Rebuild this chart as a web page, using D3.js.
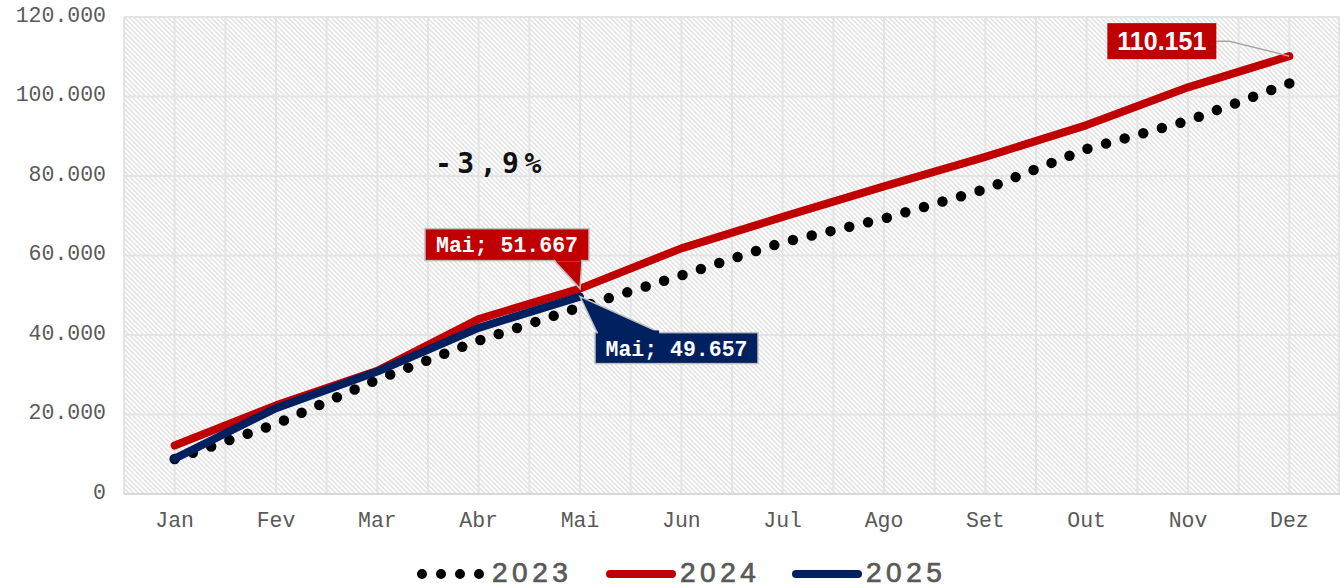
<!DOCTYPE html>
<html><head><meta charset="utf-8">
<script src="https://cdn.jsdelivr.net/npm/d3@7"></script>
<style>body{margin:0;background:#fff}</style>
</head><body><svg id="c" width="1340" height="588"></svg>
<script>
const months = ["Jan","Fev","Mar","Abr","Mai","Jun","Jul","Ago","Set","Out","Nov","Dez"];
const v2023 = [8800,17600,28800,38600,47000,55000,63300,69300,76700,86800,93900,103300];
const v2024 = [12200,22300,31000,44000,51667,61800,69700,77400,84800,92800,102300,110151];
const v2025 = [8900,21600,30800,41800,49657];
const yTicks = [0,20000,40000,60000,80000,100000,120000];
const seriesNames = ["2023","2024","2025"];
const seriesColors = ["#000000","#C00000","#002060"];
const variationLabel = "-3,9%";

const series = [
  {name: seriesNames[0], values: v2023, color: seriesColors[0], dotted: true},
  {name: seriesNames[1], values: v2024, color: seriesColors[1], dotted: false},
  {name: seriesNames[2], values: v2025, color: seriesColors[2], dotted: false}
];

const svg = d3.select("#c");
const M = {left: 124, right: 1340, top: 17, bottom: 494};
const x = d3.scaleBand().domain(months).range([M.left, M.right]).paddingInner(0).paddingOuter(0);
const y = d3.scaleLinear().domain([0, 120000]).range([M.bottom, M.top]);
const cx = m => x(m) + x.bandwidth() / 2;
const loc = d3.formatLocale({decimal: ",", thousands: ".", grouping: [3], currency: ["", ""]});
const fmt = loc.format(",");

// hatch pattern
const defs = svg.append("defs");
const pat = defs.append("pattern").attr("id", "hatch").attr("patternUnits", "userSpaceOnUse")
  .attr("width", 3.4).attr("height", 10).attr("patternTransform", "rotate(-45)");
pat.append("rect").attr("width", 3.4).attr("height", 10).attr("fill", "#ffffff");
pat.append("line").attr("x1", 0.8).attr("x2", 0.8).attr("y1", 0).attr("y2", 10)
  .attr("stroke", "#d3d3d3").attr("stroke-width", 1);

svg.append("rect").attr("x", M.left).attr("y", M.top).attr("width", M.right - M.left)
  .attr("height", M.bottom - M.top).attr("fill", "url(#hatch)");

// horizontal gridlines
svg.append("g").selectAll("line").data(yTicks).join("line")
  .attr("x1", M.left).attr("x2", M.right).attr("y1", d => y(d)).attr("y2", d => y(d))
  .attr("stroke", "#e4e4e4").attr("stroke-width", 2);

// vertical gridlines at band edges and centers
const vLines = [];
months.forEach(m => { vLines.push(x(m)); vLines.push(cx(m)); });
vLines.push(M.right - 1);
svg.append("g").selectAll("line").data(vLines).join("line")
  .attr("x1", d => d).attr("x2", d => d).attr("y1", M.top).attr("y2", M.bottom)
  .attr("stroke", "#e4e4e4").attr("stroke-width", 2);

// bottom axis line
svg.append("line").attr("x1", M.left).attr("x2", M.right).attr("y1", M.bottom).attr("y2", M.bottom)
  .attr("stroke", "#d9d9d9").attr("stroke-width", 2);

// y axis
const yAxis = svg.append("g").attr("transform", `translate(${M.left},0)`)
  .call(d3.axisLeft(y).tickValues(yTicks).tickFormat(fmt).tickSize(0).tickPadding(18));
yAxis.select(".domain").remove();
yAxis.selectAll("text").attr("font-family", "'Liberation Mono', 'Courier New', monospace")
  .attr("font-size", 21.5).attr("fill", "#595959").attr("dy", "0.2em");

// x axis
const xAxis = svg.append("g").attr("transform", `translate(0,${M.bottom})`)
  .call(d3.axisBottom(x).tickSize(0).tickPadding(18));
xAxis.select(".domain").remove();
xAxis.selectAll("text").attr("font-family", "'Liberation Mono', 'Courier New', monospace")
  .attr("font-size", 21.5).attr("fill", "#595959");

// lines
const line = d3.line().x((d, i) => cx(months[i])).y(d => y(d));
series.forEach(s => {
  const p = svg.append("path").datum(s.values).attr("d", line).attr("fill", "none")
    .attr("stroke", s.color).attr("stroke-linecap", "round").attr("stroke-linejoin", "round");
  if (s.dotted) {
    const L = p.node().getTotalLength();
    const gap = L / Math.round(L / 19.4);
    p.attr("stroke-width", 10.5).attr("stroke-dasharray", `0 ${gap}`);
  } else p.attr("stroke-width", 8);
});

// variation annotation
svg.append("text").attr("x", 435).attr("y", 173).text(variationLabel)
  .attr("font-family", "'DejaVu Sans Mono', monospace").attr("font-size", 28).attr("font-weight", "bold")
  .attr("letter-spacing", 5.5).attr("fill", "#111");

// callout labels
function callout(cfg) {
  const g = svg.append("g");
  g.append("polygon").attr("points", cfg.wedge.map(p => p.join(",")).join(" "))
    .attr("fill", cfg.color).attr("stroke", "#bfbfbf").attr("stroke-width", 1.5);
  g.append("rect").attr("x", cfg.box[0]).attr("y", cfg.box[1]).attr("width", cfg.box[2]).attr("height", cfg.box[3])
    .attr("fill", cfg.color).attr("stroke", "#bfbfbf").attr("stroke-width", 1.5);
  g.append("polygon").attr("points", cfg.seam.map(p => p.join(",")).join(" ")).attr("fill", cfg.color);
  g.append("text").attr("x", cfg.box[0] + cfg.box[2] / 2).attr("y", cfg.box[1] + cfg.box[3] / 2)
    .attr("dy", "0.36em").attr("text-anchor", "middle").text(cfg.text)
    .attr("font-family", "'Liberation Mono', 'Courier New', monospace").attr("font-weight", "bold")
    .attr("font-size", 21.5).attr("fill", "#fff");
}
const mai = months.indexOf("Mai");
const p24 = [cx("Mai"), y(v2024[mai])];
const p25 = [cx("Mai"), y(v2025[mai])];
callout({
  color: seriesColors[1], text: "Mai; " + fmt(v2024[mai]),
  box: [p24[0] - 155, p24[1] - 60, 164, 32],
  wedge: [[p24[0] - 26, p24[1] - 28], p24, [p24[0] + 2, p24[1] - 28]],
  seam: [[p24[0] - 25, p24[1] - 29.5], [p24[0] + 1, p24[1] - 29.5], [p24[0] + 1, p24[1] - 27], [p24[0] - 24, p24[1] - 27]]
});
callout({
  color: seriesColors[2], text: "Mai; " + fmt(v2025[mai]),
  box: [p25[0] + 15, p25[1] + 36, 163, 31],
  wedge: [[p25[0] + 17, p25[1] + 36], p25, [p25[0] + 80, p25[1] + 36]],
  seam: [[p25[0] + 18, p25[1] + 34], [p25[0] + 79, p25[1] + 34], [p25[0] + 79, p25[1] + 37.5], [p25[0] + 18, p25[1] + 37.5]]
});

// end label 110.151
const pEnd = [cx("Dez"), y(v2024[11])];
svg.append("polyline").attr("points", [[pEnd[0] - 73, pEnd[1] - 15], [pEnd[0] - 60, pEnd[1] - 15], pEnd].map(p => p.join(",")).join(" "))
  .attr("fill", "none").attr("stroke", "#a6a6a6").attr("stroke-width", 1.5);
svg.append("rect").attr("x", pEnd[0] - 182).attr("y", pEnd[1] - 33).attr("width", 109).attr("height", 36)
  .attr("fill", seriesColors[1]);
svg.append("text").attr("x", pEnd[0] - 127.5).attr("y", pEnd[1] - 15).attr("dy", "0.36em")
  .attr("text-anchor", "middle").text(fmt(v2024[11]))
  .attr("font-family", "'Liberation Sans', Arial, sans-serif").attr("font-weight", "bold")
  .attr("font-size", 25).attr("fill", "#fff");

// legend
const legendX = [418, 606, 792];
const lg = svg.append("g");
series.forEach((s, i) => {
  const x0 = legendX[i], yl = 574;
  if (s.dotted) {
    lg.append("line").attr("x1", x0 + 4).attr("x2", x0 + 64).attr("y1", yl).attr("y2", yl)
      .attr("stroke", s.color).attr("stroke-width", 10).attr("stroke-linecap", "round").attr("stroke-dasharray", "0 19");
  } else {
    lg.append("line").attr("x1", x0 + 4).attr("x2", x0 + 66).attr("y1", yl).attr("y2", yl)
      .attr("stroke", s.color).attr("stroke-width", 8).attr("stroke-linecap", "round");
  }
  lg.append("text").attr("x", x0 + 74).attr("y", 581.5).text(s.name)
    .attr("font-family", "'Liberation Sans', Arial, sans-serif").attr("font-size", 28)
    .attr("letter-spacing", 4.5).attr("fill", "#595959")
    .attr("stroke", "#595959").attr("stroke-width", 0.7);
});
</script></body></html>
